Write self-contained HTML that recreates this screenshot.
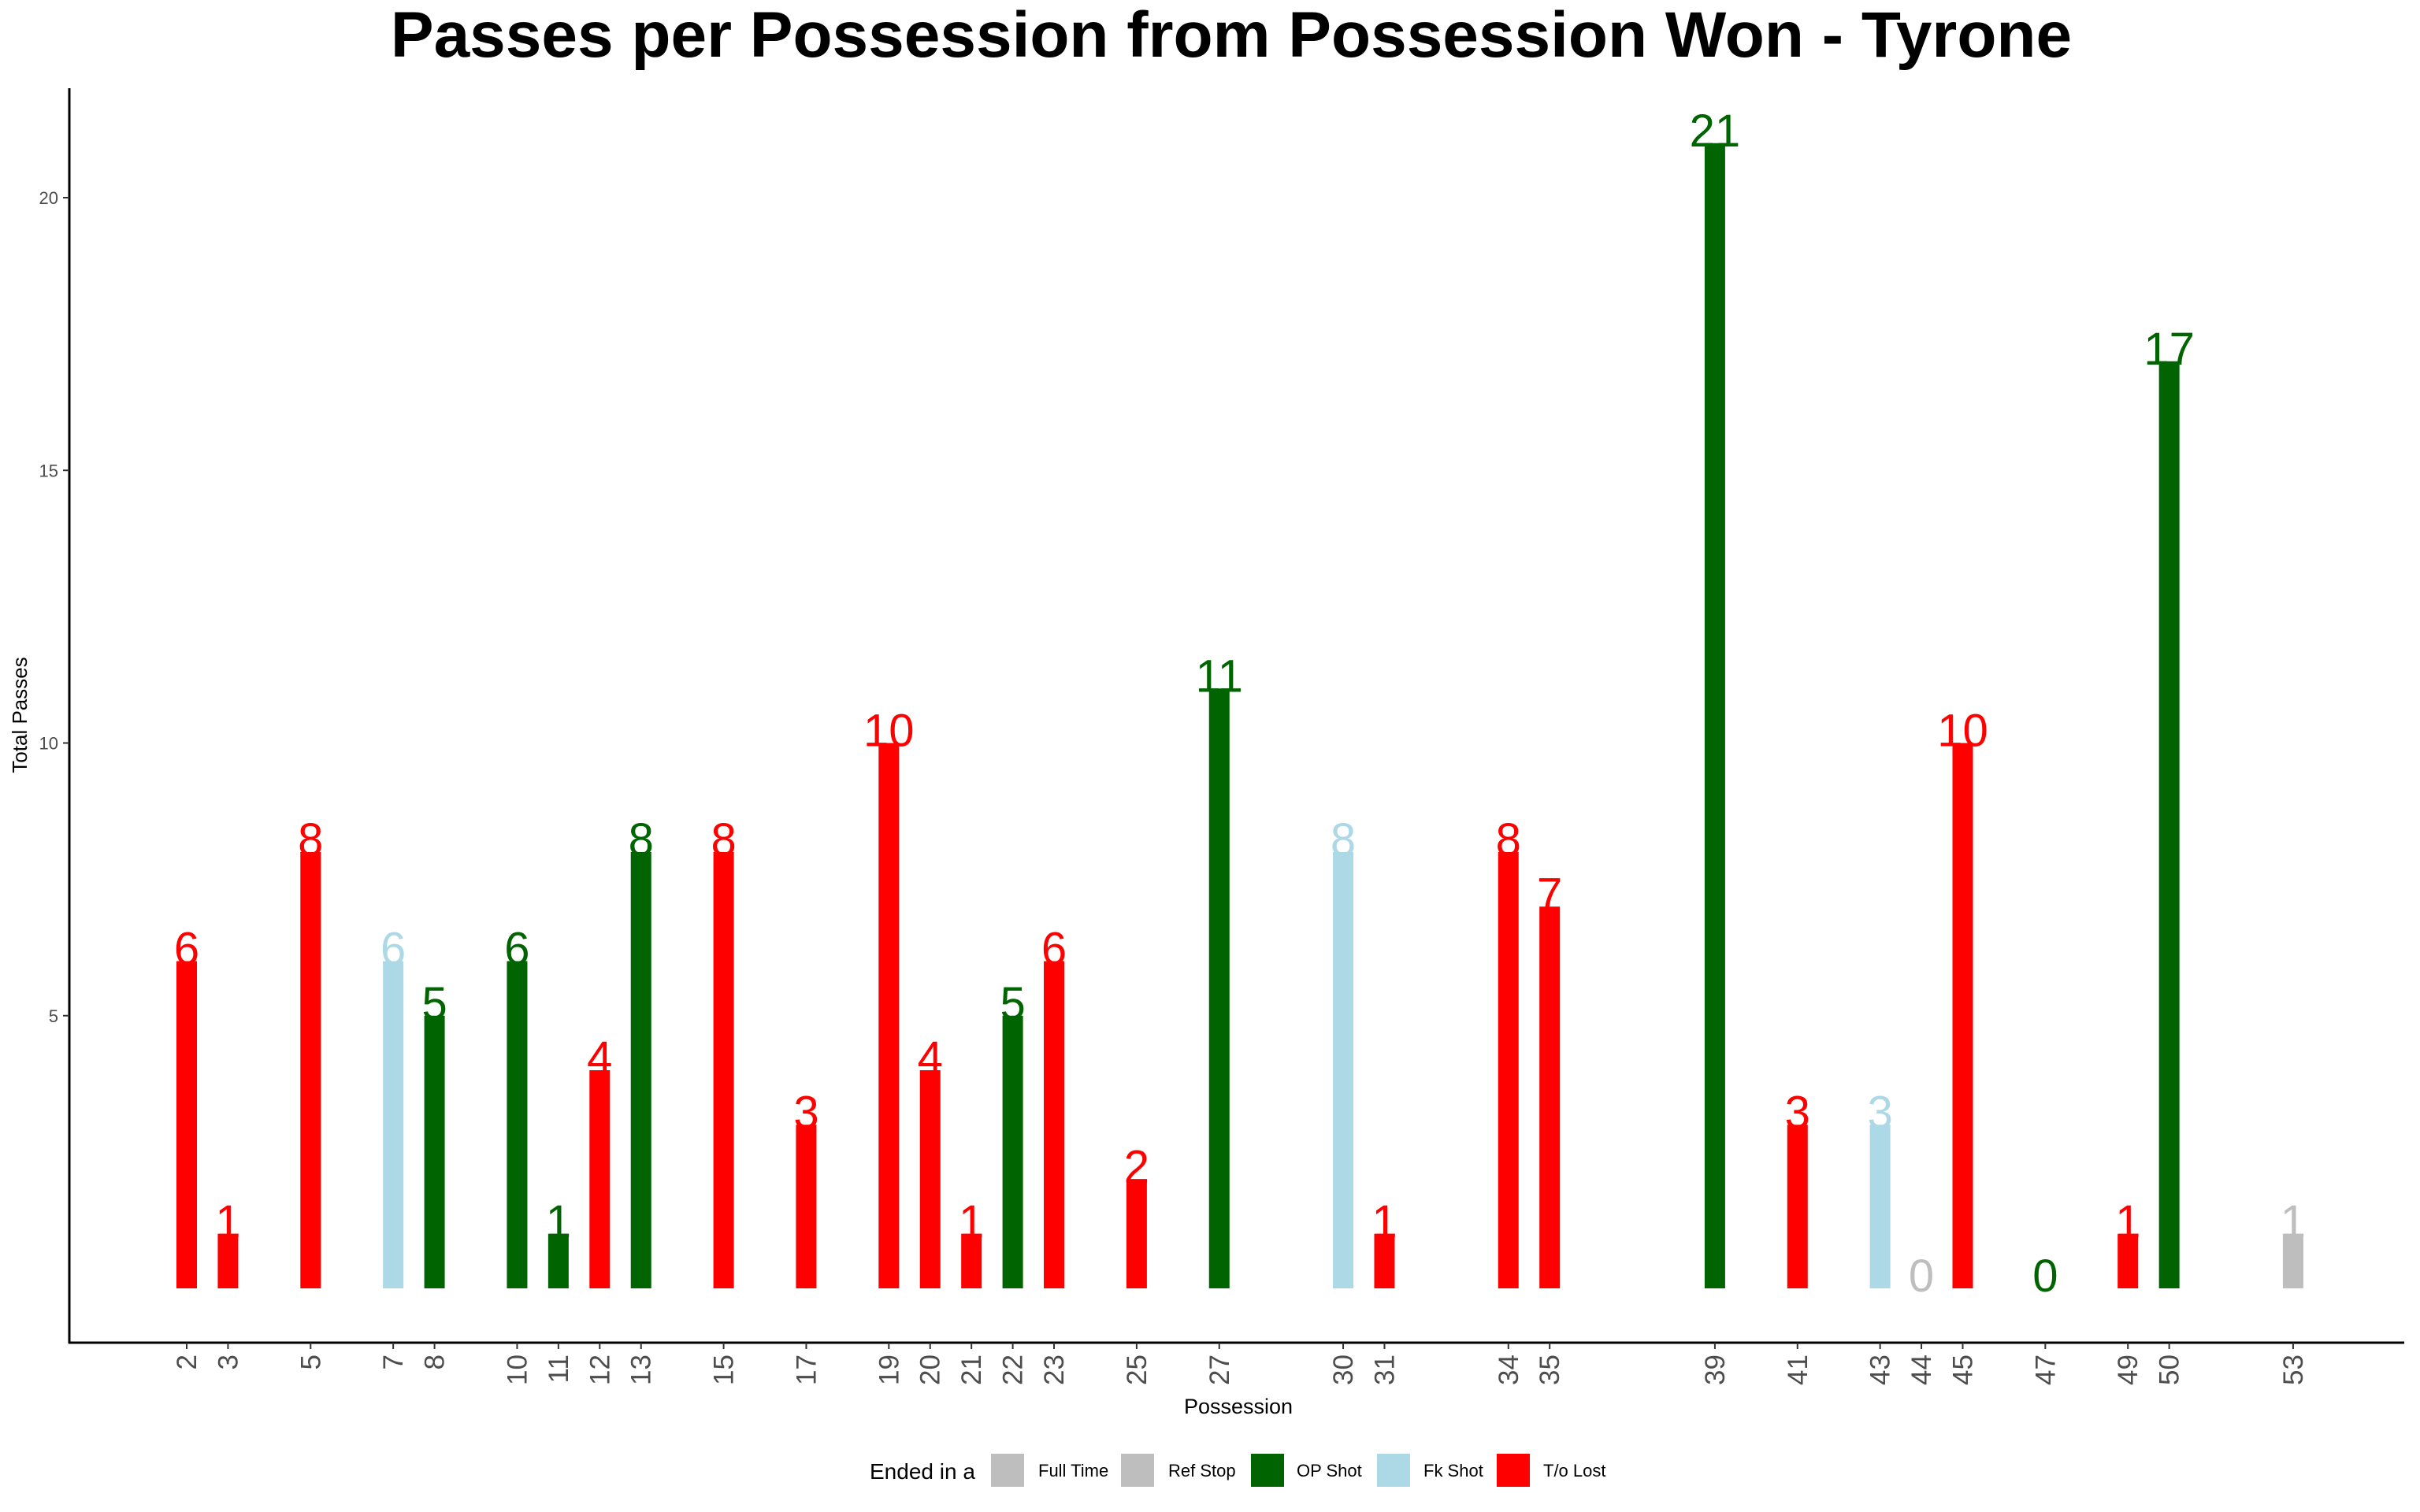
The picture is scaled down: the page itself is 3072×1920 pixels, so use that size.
<!DOCTYPE html>
<html><head><meta charset="utf-8"><style>
body{margin:0;background:#fff}
svg{display:block;font-family:"Liberation Sans",sans-serif}
</style></head><body>
<svg id="chart" width="3072" height="1920" viewBox="0 0 3072 1920">
<text x="1563" y="72" font-size="82" font-weight="bold" text-anchor="middle">Passes per Possession from Possession Won - Tyrone</text>
<line x1="88" y1="112" x2="88" y2="1706" stroke="#000" stroke-width="3"/>
<line x1="87" y1="1705" x2="3052" y2="1705" stroke="#000" stroke-width="3"/>
<g id="yticks"></g><g id="xticks"></g><g id="bars"></g><g id="labels"></g>
<text transform="translate(34,908) rotate(-90)" font-size="26" text-anchor="middle">Total Passes</text>
<text x="1572" y="1795" font-size="27" text-anchor="middle">Possession</text>
<g font-size="22">
<text x="1104" y="1878" font-size="28">Ended in a</text>
<rect x="1258" y="1846" width="42" height="42" fill="#bebebe"/>
<text x="1318" y="1875">Full Time</text>
<rect x="1423" y="1846" width="42" height="42" fill="#bebebe"/>
<text x="1483" y="1875">Ref Stop</text>
<rect x="1588" y="1846" width="42" height="42" fill="#006400"/>
<text x="1646" y="1875">OP Shot</text>
<rect x="1748" y="1846" width="42" height="42" fill="#add8e6"/>
<text x="1807" y="1875">Fk Shot</text>
<rect x="1900" y="1846" width="42" height="42" fill="#ff0000"/>
<text x="1959" y="1875">T/o Lost</text>
</g>
</svg>
<script>
const possessions=[2,3,5,7,8,10,11,12,13,15,17,19,20,21,22,23,25,27,30,31,34,35,39,41,43,44,45,47,49,50,53];
const passes=[6,1,8,6,5,6,1,4,8,8,3,10,4,1,5,6,2,11,8,1,8,7,21,3,3,0,10,0,1,17,1];
const outcomes=["T","T","T","F","O","O","O","T","O","T","T","T","T","T","O","T","T","O","F","T","T","T","O","T","F","R","T","O","T","O","R"];
const yTicks=[5,10,15,20];
const colors={T:"#ff0000",O:"#006400",F:"#add8e6",R:"#bebebe"};
const NS="http://www.w3.org/2000/svg";
function xS(p){return 237+(p-2)*52.43;}
function yS(v){return 1636-v*69.25;}
function mk(tag,attrs,parent){const e=document.createElementNS(NS,tag);for(const k in attrs)e.setAttribute(k,attrs[k]);parent.appendChild(e);return e;}
const yt=document.getElementById("yticks"),xt=document.getElementById("xticks"),bg=document.getElementById("bars"),lg=document.getElementById("labels");
yTicks.forEach(v=>{
  const l=mk("line",{x1:80,x2:88,y1:yS(v),y2:yS(v),stroke:"#333","stroke-width":2},yt);
  
  
  const t=mk("text",{x:74,y:yS(v)+8,"font-size":22,fill:"#4d4d4d","text-anchor":"end"},yt);
  
  
  t.textContent=v;
});
possessions.forEach((p,i)=>{
  const x=xS(p),v=passes[i],c=colors[outcomes[i]];
  const tk=mk("line",{x1:x,x2:x,y1:1705,y2:1713,stroke:"#333","stroke-width":2},xt);
  
  
  const tl=mk("text",{transform:`translate(${x+12},1720) rotate(-90)`,"font-size":35,fill:"#4d4d4d","text-anchor":"end"},xt);
  
  
  tl.textContent=p;
  if(v>0){
    const r=mk("rect",{x:x-13,y:yS(v),width:26,height:yS(0)-yS(v),fill:c},bg);
    
    
  }
  const lb=mk("text",{x:x,y:yS(v)+4,"font-size":58,fill:c,"text-anchor":"middle"},lg);
  
  
  lb.textContent=v;
});
</script>
</body></html>
